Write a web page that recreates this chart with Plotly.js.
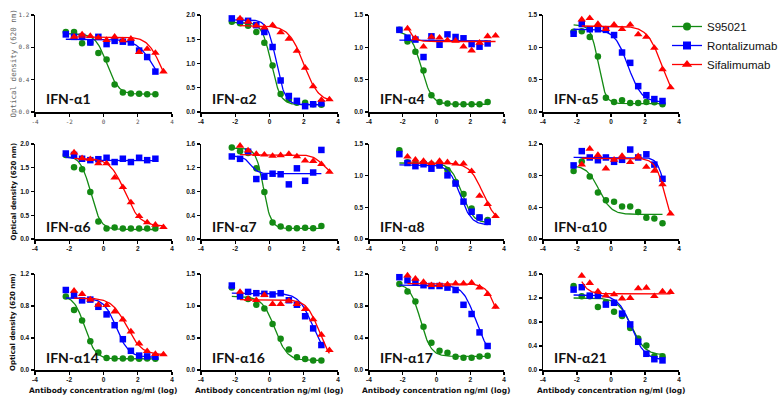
<!DOCTYPE html>
<html><head><meta charset="utf-8">
<script src="https://cdn.plot.ly/plotly-3.0.1.min.js"></script>
<style>html,body{margin:0;padding:0;background:#fff}#chart{width:783px;height:402px}</style>
</head><body><div id="chart"></div>
<script>
const panelLabels = ['IFN-α1','IFN-α2','IFN-α4','IFN-α5','IFN-α6','IFN-α7','IFN-α8','IFN-α10','IFN-α14','IFN-α16','IFN-α17','IFN-α21'];
const seriesNames = ['S95021','Rontalizumab','Sifalimumab'];
// log10 antibody concentration (ng/ml)
const concLogS95021 = [-2.2,-1.72,-1.25,-0.77,-0.3,0.18,0.65,1.13,1.6,2.08,2.55,3.03];
const concLogRontalizumab = [-2.2,-1.72,-1.25,-0.77,-0.3,0.18,0.65,1.13,1.6,2.08,2.55,3.03];
const concLogSifalimumab = [-1.72,-1.25,-0.77,-0.3,0.18,0.65,1.13,1.6,2.08,2.55,3.03,3.5];

// Optical density (620 nm), one row per panel
const s95021OD = [
  [0.99,0.99,0.85,0.86,0.73,0.65,0.34,0.24,0.23,0.225,0.22,0.22],
  [1.86,1.83,1.78,1.65,1.43,0.96,0.37,0.26,0.19,0.19,0.16,0.15],
  [1.27,1.09,0.93,0.64,0.26,0.155,0.13,0.12,0.12,0.12,0.12,0.155],
  [1.24,1.25,1.16,0.86,0.22,0.155,0.18,0.14,0.14,0.155,0.15,0.12],
  [1.77,1.51,1.47,0.99,0.37,0.22,0.24,0.22,0.22,0.22,0.22,0.22],
  [1.54,1.48,1.45,1.19,0.79,0.28,0.21,0.18,0.18,0.19,0.18,0.22],
  [1.40,1.21,1.19,1.20,1.18,1.17,1.09,0.90,0.71,0.48,0.34,0.30],
  [0.86,0.98,0.79,0.587,0.49,0.47,0.41,0.41,0.34,0.27,0.26,0.20],
  [0.92,0.75,0.62,0.36,0.22,0.15,0.145,0.145,0.145,0.14,0.145,0.14],
  [1.29,1.17,1.11,1.02,0.96,0.72,0.49,0.32,0.20,0.17,0.15,0.15],
  [1.075,0.98,0.856,0.54,0.34,0.24,0.215,0.165,0.153,0.153,0.17,0.178],
  [1.40,1.23,1.23,1.05,1.13,0.97,0.90,0.70,0.525,0.41,0.23,0.23]
];
const rontalizumabOD = [
  [0.96,0.93,0.93,0.86,0.93,0.84,0.88,0.87,0.86,0.76,0.68,0.50],
  [1.93,1.88,1.88,1.79,1.65,1.34,0.65,0.33,0.23,0.12,0.16,0.18],
  [1.27,1.15,1.12,0.85,1.17,1.04,1.20,1.16,1.14,1.05,1.01,1.06],
  [1.21,1.36,1.28,1.28,1.27,1.19,0.92,0.76,0.40,0.26,0.20,0.17],
  [1.80,1.77,1.69,1.66,1.68,1.71,1.62,1.69,1.62,1.71,1.66,1.69],
  [1.39,1.35,1.47,1.01,1.05,1.10,1.09,0.92,1.19,0.98,1.12,1.50],
  [1.34,1.20,1.15,1.18,1.11,1.16,1.005,0.875,0.59,0.43,0.34,0.27],
  [0.93,1.11,1.03,0.995,1.03,0.975,1.0,1.13,1.03,1.07,0.94,0.76],
  [1.0,0.94,0.87,0.88,0.79,0.695,0.56,0.385,0.24,0.18,0.17,0.165],
  [1.32,1.15,1.22,1.20,1.19,1.18,1.20,1.09,1.02,0.84,0.65,0.39],
  [1.16,1.12,1.10,1.06,1.05,1.05,1.03,1.0,0.815,0.70,0.47,0.30],
  [1.34,1.38,1.24,1.24,1.09,1.12,0.94,0.76,0.47,0.27,0.18,0.16]
];
const sifalimumabOD = [
  [0.93,0.96,0.94,0.92,0.89,0.93,0.885,0.905,0.74,0.78,0.73,0.50],
  [1.93,1.86,1.78,1.74,1.79,1.64,1.51,1.26,0.91,0.53,0.25,0.26],
  [1.29,1.14,1.01,1.16,1.15,1.11,1.10,1.01,0.95,1.07,1.17,1.18],
  [1.43,1.45,1.36,1.28,1.35,1.28,1.35,1.20,1.16,0.99,0.66,0.38],
  [1.82,1.70,1.68,1.59,1.59,1.29,1.09,0.77,0.48,0.35,0.30,0.25],
  [1.57,1.49,1.43,1.42,1.40,1.41,1.43,1.39,1.32,1.31,1.26,1.13],
  [1.30,1.25,1.23,1.20,1.23,1.21,1.19,1.19,1.07,0.68,0.55,0.36],
  [0.94,1.14,1.06,0.89,1.0,1.05,0.97,1.045,0.91,0.86,0.69,0.32],
  [0.99,0.95,0.88,0.815,0.81,0.73,0.63,0.48,0.33,0.235,0.20,0.195],
  [1.22,1.11,1.09,1.17,1.03,1.03,1.08,1.03,0.95,0.79,0.55,0.31],
  [1.18,1.14,1.10,1.06,1.06,1.07,1.08,1.08,1.09,1.03,0.95,0.79],
  [1.57,1.45,1.31,1.24,1.26,1.19,1.20,1.36,1.37,1.23,1.31,1.30]
];
// four-parameter logistic fit: [top, bottom, logEC50, hill]
const s95021Fit = [
  [0.97,0.22,0.2,1.3],[1.85,0.15,0.1,1.6],[1.25,0.12,-0.9,1.4],[1.35,0.13,-0.75,2.0],
  [1.75,0.2,-0.75,1.5],[1.53,0.18,-0.35,2.0],[1.2,0.25,1.5,1.3],[0.93,0.31,-0.7,1.2],
  [0.93,0.14,-1.1,1.4],[1.15,0.15,0.3,1.2],[1.08,0.17,-0.95,1.4],[1.2,0.25,1.2,1.1]
];
const rontalizumabFit = [
  [0.9,0.25,2.9,0.9],[1.9,0.15,0.4,1.7],[1.11,1.1,0,1],[1.28,0.15,1.0,1.1],
  [1.73,1.65,-1.5,1],[1.4,1.1,-1.1,2],[1.17,0.22,1.4,1.3],[1.03,0.3,3.15,2],
  [0.9,0.16,0.75,1.2],[1.2,0.2,2.5,1.1],[1.06,0.2,2.3,1.2],[1.25,0.17,1.2,1.1]
];
const sifalimumabFit = [
  [0.93,0.2,3.35,1.1],[1.78,0.2,2.0,1.0],[1.5,1.09,-1.7,2],[1.33,0.1,3.0,1.0],
  [1.7,0.27,1.25,1.0],[1.42,1.08,3.1,1.5],[1.2,0.25,2.75,1.1],[1.02,0.05,3.2,1.5],
  [0.9,0.19,1.35,1.0],[1.1,0.1,2.9,1.2],[1.08,0.2,3.7,1.3],[2.0,1.27,-2.0,1.5]
];
const yMax = [1.2,2.0,1.5,1.5, 2.0,1.6,1.5,1.2, 1.2,1.5,1.2,1.6];
const yStep = [0.4,0.5,0.5,0.5, 0.5,0.4,0.5,0.4, 0.4,0.5,0.4,0.4];
const xTickVals = [-4,-2,0,2,4];
const xTickLabels = ['-4','-2','0','2','4'];
const xTitle = 'Antibody concentration ng/ml (log)';
const yTitle = 'Optical density (620 nm)';

const colors = ['#138a13','#0000ff','#ff0000'];
const symbols = ['circle','square','triangle-up'];
const msize = [6.5,6.5,7.5];
const W = 783, H = 402;
const colPx = [[35,172],[201,338],[369,504],[543,679]];
const rowPx = [[15,112],[144,239],[274,370]];

const concs = [concLogS95021, concLogRontalizumab, concLogSifalimumab];
const ods = [s95021OD, rontalizumabOD, sifalimumabOD];
const fits = [s95021Fit, rontalizumabFit, sifalimumabFit];

function fourPL(x,p){ return p[1] + (p[0]-p[1])/(1+Math.pow(10, p[3]*(x-p[2]))); }

const traces = [];
const layout = {
  width: W, height: H, margin:{l:0,r:0,t:0,b:0},
  paper_bgcolor:'#fff', plot_bgcolor:'rgba(0,0,0,0)',
  showlegend:true,
  legend:{x:1, y:1-12/H, xanchor:'right', yanchor:'top', bgcolor:'rgba(0,0,0,0)',
    font:{family:'Liberation Sans, Arial', size:11.5, color:'#111'}, itemwidth:30, tracegroupgap:0},
  annotations:[]
};

for (let p=0;p<12;p++){
  const r = Math.floor(p/4), c = p%4;
  const ax = p===0 ? '' : String(p+1);
  const first = p===0;
  const tickFont = first ? {family:'DejaVu Sans Mono', size:6, color:'#555'}
                         : {family:'Liberation Sans, Arial', size:6.5, weight:'bold', color:'#111'};
  layout['xaxis'+ax] = {
    domain:[colPx[c][0]/W, colPx[c][1]/W], range:[-4,4], anchor:'y'+ax,
    showline:true, linecolor:'#000', linewidth:1.5, ticks:'outside', ticklen:3, tickwidth:1.2, tickcolor:'#000',
    tickvals:xTickVals, ticktext:xTickLabels, tickfont:tickFont, showgrid:false, zeroline:false, fixedrange:true
  };
  layout['yaxis'+ax] = {
    domain:[1-rowPx[r][1]/H, 1-rowPx[r][0]/H], range:[0,yMax[p]], anchor:'x'+ax,
    showline:true, linecolor:'#000', linewidth:1.5, ticks:'outside', ticklen:3, tickwidth:1.2, tickcolor:'#000',
    tick0:0, dtick:yStep[p], tickformat:'.1f', tickfont:tickFont, showgrid:false, zeroline:false, fixedrange:true
  };
  for (let s=0;s<3;s++){
    const xs = concs[s], fp = fits[s][p];
    const xmin = xs[0], xmax = xs[xs.length-1];
    const cx = [], cy = [];
    for (let i=0;i<=100;i++){ const x = xmin + (xmax-xmin)*i/100; cx.push(x); cy.push(fourPL(x,fp)); }
    traces.push({x:cx, y:cy, xaxis:'x'+ax, yaxis:'y'+ax, mode:'lines', line:{color:colors[s], width:1.3},
      showlegend:false, hoverinfo:'skip', cliponaxis:false});
    traces.push({x:xs, y:ods[s][p], xaxis:'x'+ax, yaxis:'y'+ax, mode:'markers', name:seriesNames[s],
      marker:{color:colors[s], symbol:symbols[s], size:msize[s], line:{width:0}}, showlegend:false, cliponaxis:false});
  }
  layout.annotations.push({xref:'paper', yref:'paper', x:(colPx[c][0]+9)/W, y:1-(rowPx[r][1]-13)/H,
    xanchor:'left', yanchor:'middle', showarrow:false, text:panelLabels[p],
    font:{family:'Lato, Open Sans, sans-serif', size:14, weight:'bold', color:'#111'}});
}
// legend entries
for (let s=0;s<3;s++){
  traces.push({x:[null], y:[null], mode:'lines+markers', name:seriesNames[s], xaxis:'x', yaxis:'y',
    line:{color:colors[s], width:1.3}, marker:{color:colors[s], symbol:symbols[s], size:msize[s]+1.5}, showlegend:true});
}
// y titles
for (let r=0;r<3;r++){
  const first = r===0;
  layout.annotations.push({xref:'paper', yref:'paper', x:13/W, y:1-((rowPx[r][0]+rowPx[r][1])/2)/H,
    xanchor:'center', yanchor:'middle', textangle:-90, showarrow:false, text:yTitle,
    font: first ? {family:'DejaVu Sans Mono', size:7.5, color:'#666'} : {family:'DejaVu Sans', size:7, weight:'bold', color:'#111'}});
}
// x titles
for (let c=0;c<4;c++){
  layout.annotations.push({xref:'paper', yref:'paper', x:((colPx[c][0]+colPx[c][1])/2)/W, y:1-390/H,
    xanchor:'center', yanchor:'middle', showarrow:false, text:xTitle,
    font:{family:'DejaVu Sans', size:7.5, weight:'bold', color:'#111'}});
}
Plotly.newPlot('chart', traces, layout, {staticPlot:true, displayModeBar:false});
</script>
</body></html>
